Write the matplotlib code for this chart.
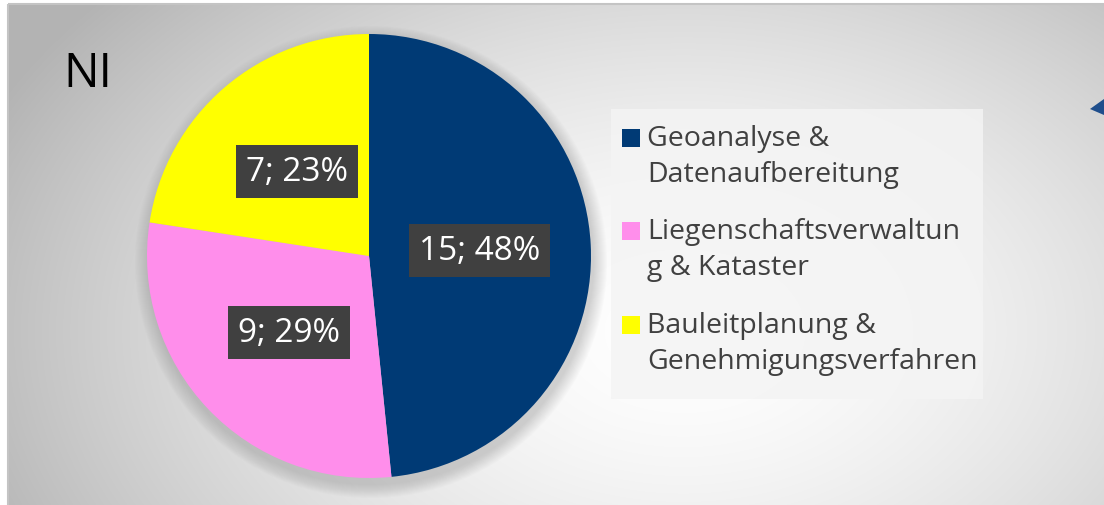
import numpy as np
import matplotlib.pyplot as plt
from matplotlib.patches import Rectangle, Polygon, Circle

# Chart data
categories = ["Geoanalyse &\nDatenaufbereitung",
              "Liegenschaftsverwaltun\ng & Kataster",
              "Bauleitplanung &\nGenehmigungsverfahren"]
values = [15, 9, 7]
colors = ["#003a75", "#ff8eeb", "#ffff00"]
title = "NI"

W, H = 1104, 506
fig = plt.figure(figsize=(W / 100, H / 100), dpi=100)
fig.patch.set_facecolor("white")

# background: radial gradient panel
bg = fig.add_axes([0, 0, 1, 1])
bg.set_xlim(0, W)
bg.set_ylim(H, 0)
bg.axis("off")
yy, xx = np.mgrid[0:H, 0:W]
d = np.sqrt(((xx - 680) / 640.0) ** 2 + ((yy - 330) / 430.0) ** 2)
shade = 1.0 - 0.22 * np.clip(d, 0, 1.2) ** 1.6
img = np.dstack([shade, shade, shade])
bg.imshow(img, extent=[8, W, H, 5], zorder=0, aspect="auto")
bg.add_patch(Rectangle((8, 5), W, H, fill=False, edgecolor="#c4c4c4", lw=1.5, zorder=1))
bg.add_patch(Polygon([[1090, 110], [1104, 100], [1104, 116]], closed=True,
                     facecolor="#1f4e8c", edgecolor="none", zorder=2))
bg.text(63, 87, title, fontsize=34, color="black", family="Open Sans", zorder=3)

# soft shadow under the pie
cx, cy, r = 369, 257, 222
for i in range(14):
    bg.add_patch(Circle((cx + 2, cy + 6), r + 14 - i, facecolor="#7a7a7a",
                        edgecolor="none", alpha=0.025, zorder=1))

# pie
ax = fig.add_axes([(cx - r) / W, (H - cy - r) / H, 2 * r / W, 2 * r / H])
ax.set_aspect("equal")
total = sum(values)


def fmt(pct):
    v = int(round(pct * total / 100.0))
    return f"{v}; {pct:.0f}%"


wedges, texts, autotexts = ax.pie(values, colors=colors, startangle=90, counterclock=False,
                                  autopct=fmt, pctdistance=0.5, radius=1.0,
                                  wedgeprops=dict(linewidth=0))
for t in autotexts:
    t.set_color("white")
    t.set_fontsize(24)
    t.set_family("Open Sans")
    t.set_bbox(dict(boxstyle="square,pad=0.3", facecolor="#404040", edgecolor="none"))
ax.set_xlim(-1, 1)
ax.set_ylim(-1, 1)

# legend
bg.add_patch(Rectangle((611, 110), 372, 290, facecolor="#f4f4f4", edgecolor="none",
                       alpha=0.85, zorder=2))
ys = [150, 243, 337]
for y, lab, c in zip(ys, categories, colors):
    bg.add_patch(Rectangle((622, y - 20), 18, 18, facecolor=c, edgecolor="none", zorder=3))
    bg.text(647, y - 25, lab, fontsize=20.5, color="#404040", family="Open Sans",
            va="top", linespacing=1.38, zorder=3)

fig.savefig("out.png", dpi=100)
